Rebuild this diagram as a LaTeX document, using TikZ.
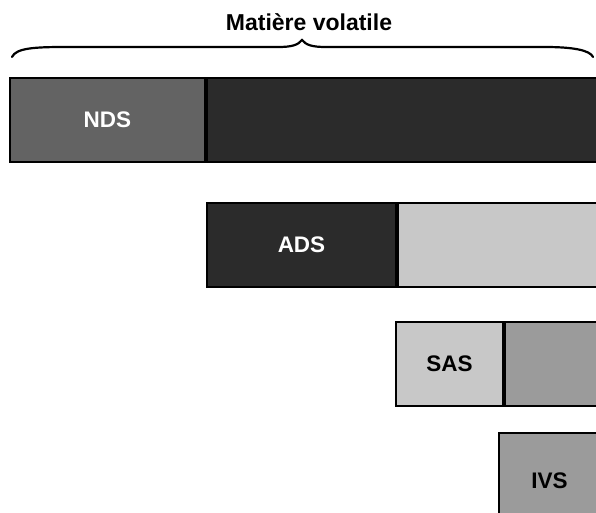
\documentclass[tikz,border=0pt]{standalone}
\usepackage{fontspec}
\setmainfont{Liberation Sans}
\usetikzlibrary{positioning}
\definecolor{ndsgrey}{HTML}{636363}
\definecolor{darkgrey}{HTML}{2B2B2B}
\definecolor{lightgrey}{HTML}{C8C8C8}
\definecolor{midgrey}{HTML}{9B9B9B}

\begin{document}
\begin{tikzpicture}[x=1pt, y=-1pt, node distance = 0pt,
   part/.style={draw, line width=2pt, rectangle, inner sep=0pt, minimum height=84pt,
      font=\fontsize{22.5}{26}\selectfont\bfseries},
   every text node part/.style={align=center}]

    \useasboundingbox (0,0) rectangle (596,513);
    \clip (0,0) rectangle (596,513);

    % Title and brace
    \node [font=\fontsize{23}{26}\selectfont\bfseries] (title) at (309,22) {Matière volatile};
    \coordinate (bl) at (12,57);
    \coordinate (tip) at (302,40);
    \coordinate (br) at (593,57);
    \draw [line width=2.2pt, line cap=round]
      (bl) .. controls (16,48) and (35,47) .. (65,47) -- (278,47)
      .. controls (292,47) and (298,45) .. (tip)
      .. controls (306,45) and (312,47) .. (326,47) -- (545,47)
      .. controls (572,47) and (590,50) .. (br);

    % Place nodes
    \node [part, fill=ndsgrey, text=white, minimum width=195pt] (nds) at (107.5,120) {NDS};
    \node [part, fill=darkgrey, minimum width=420pt, right=of nds] (ndsrest) {};

    \node [part, fill=darkgrey, text=white, minimum width=189pt] (ads) at (301.5,245) {ADS};
    \node [part, fill=lightgrey, minimum width=230pt, right=of ads] (adsrest) {};

    \node [part, fill=lightgrey, minimum width=107pt] (sas) at (449.5,364) {SAS};
    \node [part, fill=midgrey, minimum width=120pt, right=of sas] (sasrest) {};

    \node [part, fill=midgrey, minimum width=101pt, minimum height=96pt] (ivs) at (549.5,481) {IVS};
\end{tikzpicture}
\end{document}
